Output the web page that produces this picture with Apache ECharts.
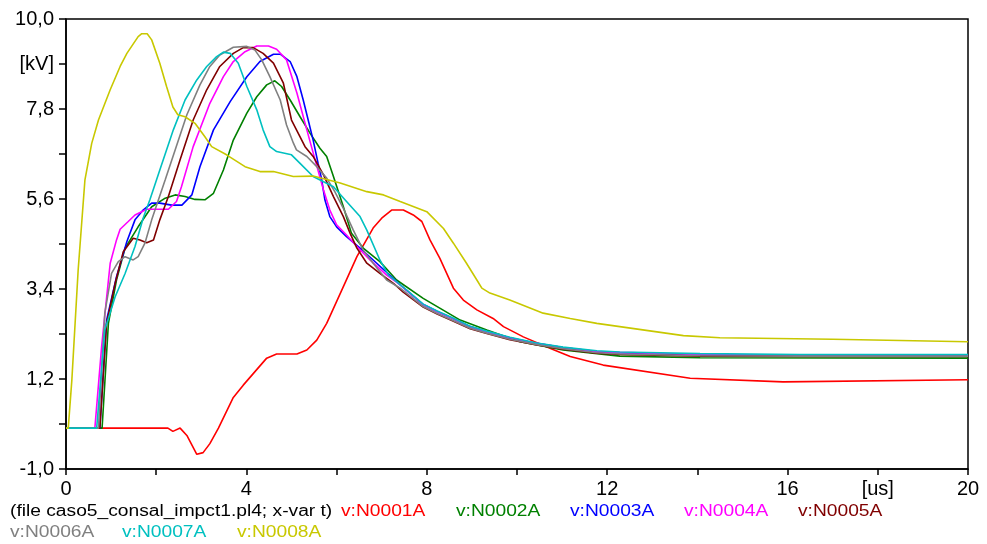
<!DOCTYPE html>
<html>
<head>
<meta charset="utf-8">
<script src="https://cdn.jsdelivr.net/npm/echarts@6/dist/echarts.min.js"></script>
<style>
html,body{margin:0;padding:0;background:#fff;}
#chart{width:987px;height:544px;}
</style>
</head>
<body>
<div id="chart"></div>
<script>
// ---- data: [time (us), voltage (kV)] ----
const N0001A = [[0,0],[2.26,0],[2.37,-0.08],[2.53,0],[2.68,-0.18],[2.90,-0.64],[3.04,-0.6],[3.19,-0.38],[3.38,0],[3.71,0.75],[3.93,1.05],[4.45,1.71],[4.67,1.81],[5.12,1.81],[5.34,1.91],[5.56,2.15],[5.78,2.56],[6.15,3.46],[6.45,4.19],[6.81,4.89],[7.00,5.13],[7.22,5.33],[7.48,5.33],[7.70,5.21],[7.89,5.05],[8.07,4.60],[8.29,4.15],[8.59,3.42],[8.81,3.13],[9.11,2.89],[9.47,2.68],[9.70,2.48],[10.14,2.23],[10.73,1.95],[11.18,1.75],[11.91,1.54],[13.84,1.22],[15.9,1.13],[20,1.18]];
const N0002A = [[0,0],[0.80,0],[0.94,2.56],[1.12,3.62],[1.31,4.40],[1.60,4.92],[1.90,5.41],[2.20,5.62],[2.42,5.70],[2.64,5.66],[2.86,5.59],[3.08,5.58],[3.27,5.74],[3.49,6.31],[3.71,7.04],[4.01,7.70],[4.23,8.10],[4.45,8.39],[4.63,8.49],[4.78,8.35],[4.97,8.02],[5.19,7.61],[5.41,7.21],[5.63,6.84],[5.78,6.64],[5.93,6.15],[6.15,5.41],[6.33,4.76],[6.59,4.40],[6.96,4.07],[7.33,3.62],[7.92,3.17],[8.74,2.64],[9.33,2.40],[10.07,2.11],[11.02,1.91],[12.28,1.76],[14.06,1.72],[20,1.71]];
const N0003A = [[0,0],[0.75,0],[0.90,2.64],[1.12,3.70],[1.35,4.56],[1.53,5.09],[1.71,5.33],[1.90,5.50],[2.08,5.50],[2.34,5.45],[2.57,5.45],[2.79,5.70],[2.97,6.39],[3.27,7.29],[3.64,7.98],[4.01,8.59],[4.30,8.96],[4.60,9.14],[4.75,9.14],[4.97,8.96],[5.12,8.59],[5.26,8.02],[5.37,7.53],[5.48,7.04],[5.59,6.47],[5.67,6.07],[5.74,5.58],[5.85,5.17],[6.00,4.92],[6.22,4.68],[6.52,4.40],[6.89,4.03],[7.41,3.50],[7.92,3.02],[8.23,2.85],[8.58,2.68],[8.96,2.48],[9.33,2.36],[9.84,2.21],[10.44,2.07],[11.02,1.97],[11.77,1.87],[12.28,1.84],[14.06,1.79],[16.27,1.77],[20,1.77]];
const N0004A = [[0,0],[0.64,0],[0.79,1.99],[0.88,2.97],[0.98,4.03],[1.12,4.60],[1.20,4.86],[1.38,5.05],[1.53,5.21],[1.79,5.35],[2.27,5.35],[2.45,5.54],[2.56,5.90],[2.82,6.88],[3.19,7.94],[3.49,8.59],[3.71,8.96],[3.97,9.20],[4.23,9.34],[4.49,9.34],[4.67,9.26],[4.89,9.00],[5.12,8.19],[5.34,7.29],[5.56,6.41],[5.71,5.82],[5.85,5.33],[6.00,4.97],[6.22,4.72],[6.45,4.44],[6.74,4.11],[7.11,3.74],[7.41,3.50],[7.92,3.02],[8.23,2.85],[8.58,2.68],[8.96,2.48],[9.33,2.36],[9.84,2.21],[10.44,2.07],[11.02,1.97],[11.77,1.87],[12.28,1.85],[14.06,1.80],[16.27,1.78],[20,1.78]];
const N0005A = [[0,0],[0.75,0],[0.90,2.56],[1.09,3.54],[1.27,4.31],[1.49,4.64],[1.64,4.60],[1.79,4.53],[1.94,4.60],[2.08,5.09],[2.27,5.66],[2.53,6.56],[2.82,7.53],[3.12,8.27],[3.41,8.84],[3.71,9.16],[3.93,9.30],[4.15,9.30],[4.37,9.16],[4.60,8.92],[4.82,8.43],[5.00,7.53],[5.19,7.12],[5.30,6.88],[5.48,6.64],[5.71,6.19],[5.93,5.66],[6.15,5.17],[6.30,4.76],[6.45,4.40],[6.67,4.03],[6.96,3.78],[7.26,3.54],[7.47,3.33],[7.92,2.96],[8.23,2.79],[8.58,2.62],[8.96,2.43],[9.33,2.31],[9.84,2.16],[10.44,2.03],[11.02,1.93],[11.77,1.83],[12.28,1.80],[14.06,1.76],[16.27,1.75],[20,1.75]];
const N0006A = [[0,0],[0.72,0],[0.86,2.81],[1.01,3.78],[1.16,4.07],[1.31,4.19],[1.49,4.11],[1.60,4.19],[1.75,4.52],[1.90,5.09],[2.05,5.58],[2.20,6.07],[2.42,6.80],[2.68,7.66],[2.97,8.39],[3.19,8.84],[3.41,9.12],[3.71,9.31],[4.01,9.33],[4.19,9.24],[4.34,9.00],[4.52,8.59],[4.75,8.02],[4.89,7.41],[5.04,6.97],[5.11,6.80],[5.34,6.64],[5.56,6.39],[5.78,6.11],[5.96,5.78],[6.15,5.37],[6.37,4.84],[6.59,4.35],[6.81,4.03],[7.11,3.62],[7.41,3.42],[7.92,2.97],[8.23,2.80],[8.58,2.63],[8.96,2.44],[9.33,2.32],[9.84,2.17],[10.44,2.04],[11.02,1.94],[11.77,1.84],[12.28,1.81],[14.06,1.77],[16.27,1.76],[20,1.76]];
const N0007A = [[0,0],[0.68,0],[0.86,2.40],[1.09,3.21],[1.31,3.78],[1.53,4.44],[1.71,5.13],[1.86,5.58],[2.08,6.31],[2.38,7.29],[2.64,8.02],[2.90,8.51],[3.12,8.84],[3.34,9.08],[3.49,9.19],[3.64,9.16],[3.82,8.92],[4.01,8.35],[4.23,7.78],[4.37,7.29],[4.52,6.88],[4.67,6.76],[5.00,6.68],[5.19,6.47],[5.48,6.15],[5.93,5.90],[6.22,5.54],[6.52,5.17],[6.67,4.84],[6.96,4.11],[7.15,3.74],[7.55,3.38],[7.92,3.03],[8.23,2.86],[8.58,2.69],[8.96,2.49],[9.33,2.37],[9.84,2.22],[10.44,2.08],[11.02,1.98],[11.77,1.89],[12.28,1.86],[14.06,1.82],[16.27,1.80],[20,1.80]];
const N0008A = [[0,0],[0.05,0],[0.13,1.18],[0.27,3.87],[0.42,6.07],[0.57,6.96],[0.72,7.53],[0.98,8.27],[1.20,8.84],[1.35,9.16],[1.60,9.57],[1.68,9.64],[1.80,9.64],[1.90,9.49],[2.08,8.92],[2.23,8.35],[2.37,7.85],[2.48,7.66],[2.64,7.61],[2.86,7.45],[3.08,7.12],[3.23,6.88],[3.56,6.68],[3.97,6.39],[4.30,6.27],[4.60,6.27],[5.04,6.15],[5.48,6.16],[6.08,5.99],[6.67,5.78],[7.04,5.70],[7.41,5.54],[8.00,5.29],[8.37,4.88],[8.59,4.52],[8.88,4.03],[9.11,3.62],[9.22,3.42],[9.40,3.30],[9.84,3.13],[10.58,2.81],[11.18,2.68],[11.77,2.56],[13.69,2.26],[14.5,2.21],[17.0,2.17],[20,2.11]];

const seriesNames = ['v:N0001A','v:N0002A','v:N0003A','v:N0004A','v:N0005A','v:N0006A','v:N0007A','v:N0008A'];
const seriesData = [N0001A, N0002A, N0003A, N0004A, N0005A, N0006A, N0007A, N0008A];
const fileLabel = '(file caso5_consal_impct1.pl4; x-var t)';
const xTickLabels = ['0','','4','','8','','12','','16','[us]','20'];
const yTickLabels = ['-1,0','','1,2','','3,4','','5,6','','7,8','[kV]','10,0'];

// ---- styling / layout ----
const colors = ['#ff0000','#008000','#0000ff','#ff00ff','#800000','#808080','#00c0c0','#c8c800'];
const legendPos = [[341,512],[456,512],[570,512],[684,512],[798,512],[10,533],[122,533],[237,533]];
const FONT = '"Liberation Sans", Arial, sans-serif';

const chart = echarts.init(document.getElementById('chart'), null, {renderer:'canvas'});

const graphics = [{
  type:'text', x:10, y:512, scaleX:1.2,
  style:{text:fileLabel, fill:'#000', font:'16px ' + FONT, verticalAlign:'middle'}
}];
seriesNames.forEach((n,i)=>{
  graphics.push({
    type:'text', x:legendPos[i][0], y:legendPos[i][1], scaleX:1.2,
    style:{text:n, fill:colors[i], font:'16px ' + FONT, verticalAlign:'middle'}
  });
});

const option = {
  animation:false,
  backgroundColor:'#fff',
  grid:{left:66, right:19, top:19, bottom:75, show:true, borderColor:'#000', borderWidth:1.5, backgroundColor:'transparent'},
  xAxis:{
    type:'value', min:0, max:20, interval:2,
    axisLine:{show:true, onZero:false, lineStyle:{color:'#000', width:1.5}},
    axisTick:{show:true, length:6, lineStyle:{color:'#000', width:1.5}},
    splitLine:{show:false},
    axisLabel:{
      show:true, margin:10, color:'#000', fontSize:20, fontFamily:FONT,
      showMinLabel:true, showMaxLabel:true,
      formatter:(v)=>{ const i=Math.round(v/2); return xTickLabels[i]||''; }
    }
  },
  yAxis:{
    type:'value', min:-1, max:10, interval:1.1,
    axisLine:{show:true, onZero:false, lineStyle:{color:'#000', width:1.5}},
    axisTick:{show:true, length:7, lineStyle:{color:'#000', width:1.5}},
    splitLine:{show:false},
    axisLabel:{
      show:true, margin:12, color:'#000', fontSize:20, fontFamily:FONT,
      showMinLabel:true, showMaxLabel:true,
      formatter:(v)=>{ const i=Math.round((v+1)/1.1); return yTickLabels[i]||''; }
    }
  },
  series: seriesData.map((d,i)=>({
    name:seriesNames[i], type:'line', data:d, showSymbol:false, symbol:'none',
    lineStyle:{color:colors[i], width:1.6}, itemStyle:{color:colors[i]},
    z:2+i
  })),
  graphic: graphics
};
chart.setOption(option);
</script>
</body>
</html>
